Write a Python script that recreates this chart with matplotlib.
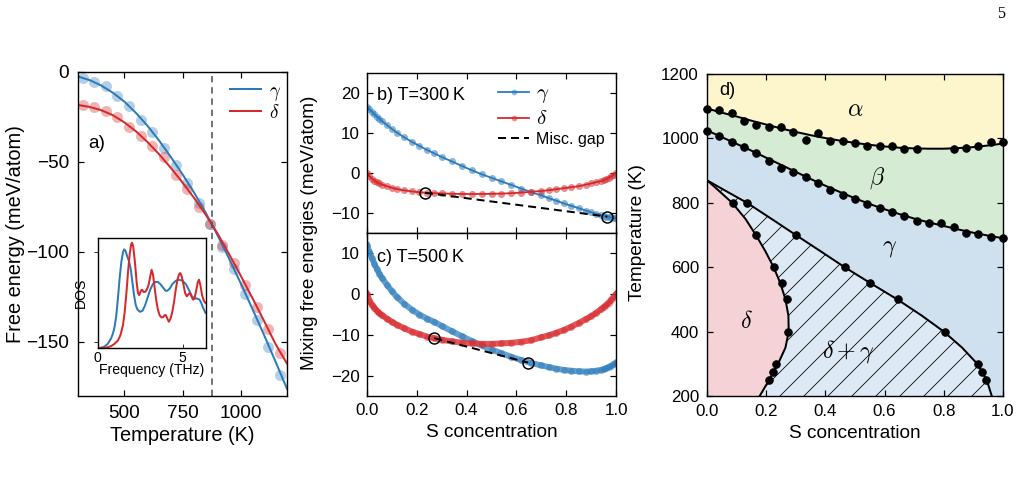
import matplotlib
matplotlib.use('Agg')
import matplotlib.pyplot as plt

plt.rcParams['font.family'] = ['Liberation Sans', 'DejaVu Sans']
plt.rcParams['mathtext.fontset'] = 'cm'
plt.rcParams['hatch.linewidth'] = 0.8
plt.rcParams['axes.linewidth'] = 1.4
plt.rcParams['axes.unicode_minus'] = True

BLUE = '#2b7bba'
RED = '#d7282c'

# ---------------- panel a: free energies vs temperature ----------------
T_pts = [320, 370, 420, 470, 520, 570, 620, 670, 720, 770, 820, 870,
         920, 970, 1020, 1070, 1120, 1170]
F_gamma_pts = [-3.3, -5.6, -8.0, -13.5, -19.0, -26.5, -33.5, -42.2, -51.5,
               -61.7, -72.5, -84.6, -97.0, -109.6, -123.5, -138.0, -153.0, -168.3]
F_delta_pts = [-18.5, -19.6, -21.5, -25.2, -30.7, -35.7, -41.3, -47.4, -57.4,
               -65.0, -75.0, -84.6, -96.1, -106.3, -118.3, -130.4, -143.0, -156.3]
T_fit = [300, 350, 400, 450, 500, 550, 600, 650, 700, 750, 800, 850, 900,
         950, 1000, 1050, 1100, 1150, 1200]
F_gamma_fit = [-2.5, -4.5, -7.5, -11.5, -16.5, -22.8, -30.0, -38.2, -47.3,
               -56.8, -67.0, -78.2, -90.5, -103.5, -117.2, -131.3, -145.8, -160.7, -176.0]
F_delta_fit = [-18.3, -19.4, -21.2, -24.0, -28.0, -33.0, -39.0, -45.8, -53.3,
               -61.4, -70.0, -79.3, -89.5, -101.0, -113.0, -125.3, -138.0, -151.0, -162.0]
T_transition = 875

# inset: phonon DOS
freq_gamma = [0, 0.2, 0.4, 0.6, 0.8, 0.9, 1.0, 1.1, 1.2, 1.3, 1.4, 1.5, 1.57, 1.65,
              1.75, 1.85, 1.95, 2.05, 2.15, 2.25, 2.35, 2.5, 2.65, 2.8, 2.95, 3.1,
              3.25, 3.4, 3.55, 3.7, 3.85, 4.0, 4.1, 4.25, 4.4, 4.6, 4.8, 5.0, 5.2,
              5.4, 5.55, 5.7, 5.85, 6.0, 6.1, 6.2, 6.35]
dos_gamma = [0, 0.005, 0.015, 0.04, 0.09, 0.13, 0.19, 0.29, 0.45, 0.63, 0.78, 0.87,
             0.895, 0.88, 0.83, 0.79, 0.72, 0.60, 0.48, 0.39, 0.35, 0.33, 0.34, 0.39,
             0.46, 0.53, 0.58, 0.60, 0.60, 0.58, 0.55, 0.52, 0.52, 0.54, 0.58, 0.61,
             0.62, 0.61, 0.58, 0.52, 0.47, 0.45, 0.45, 0.44, 0.41, 0.37, 0.32]
freq_delta = [0, 0.5, 0.8, 1.0, 1.2, 1.35, 1.5, 1.6, 1.7, 1.8, 1.9, 1.98, 2.03, 2.1,
              2.2, 2.3, 2.38, 2.45, 2.55, 2.62, 2.7, 2.8, 2.9, 3.0, 3.1, 3.18, 3.26,
              3.35, 3.45, 3.55, 3.65, 3.75, 3.85, 3.95, 4.02, 4.1, 4.2, 4.3, 4.4, 4.5,
              4.6, 4.7, 4.8, 4.87, 4.95, 5.05, 5.15, 5.25, 5.35, 5.43, 5.52, 5.62,
              5.7, 5.8, 5.9, 5.97, 6.05, 6.15, 6.25, 6.35]
dos_delta = [0, 0.005, 0.02, 0.04, 0.07, 0.12, 0.21, 0.33, 0.50, 0.70, 0.86, 0.94,
             0.955, 0.92, 0.78, 0.60, 0.50, 0.48, 0.52, 0.53, 0.51, 0.51, 0.53, 0.57,
             0.65, 0.71, 0.67, 0.56, 0.44, 0.35, 0.30, 0.28, 0.28, 0.30, 0.30, 0.27,
             0.24, 0.27, 0.33, 0.42, 0.53, 0.62, 0.67, 0.68, 0.65, 0.58, 0.50, 0.47,
             0.49, 0.50, 0.47, 0.44, 0.45, 0.52, 0.60, 0.62, 0.57, 0.48, 0.43, 0.41]

# ---------------- panels b, c: mixing free energies ----------------
x_conc = [0, .01, .02, .03, .04, .05, .06, .08, .1, .12, .15, .18, .21, .24, .27,
          .3, .34, .38, .42, .46, .5, .54, .58, .62, .66, .7, .73, .76, .79, .82,
          .85, .88, .9, .92, .94, .95, .96, .97, .98, .99, 1.0]
G300_gamma = [16.5, 15.9, 15.3, 14.7, 14.1, 13.6, 13.0, 12.0, 11.0, 10.1, 8.9, 7.8,
              6.8, 5.8, 4.9, 4.0, 2.9, 1.8, 0.7, -0.3, -1.2, -2.1, -3.0, -3.9, -4.8,
              -5.6, -6.3, -6.9, -7.6, -8.2, -8.8, -9.4, -9.8, -10.2, -10.5, -10.7,
              -10.9, -11.0, -11.1, -11.2, -11.3]
G300_delta = [0, -0.8, -1.4, -1.9, -2.3, -2.6, -2.9, -3.3, -3.7, -4.0, -4.35, -4.6,
              -4.8, -4.95, -5.05, -5.1, -5.2, -5.25, -5.25, -5.25, -5.2, -5.15, -5.05,
              -4.9, -4.7, -4.5, -4.3, -4.05, -3.8, -3.55, -3.3, -2.9, -2.6, -2.3,
              -2.0, -1.8, -1.5, -1.2, -0.85, -0.45, 0]
G500_gamma = [12.0, 10.3, 8.8, 7.4, 6.1, 5.0, 4.0, 2.3, 0.7, -0.7, -2.4, -3.8, -5.0,
              -6.0, -6.8, -7.8, -9.1, -10.3, -11.5, -12.6, -13.6, -14.5, -15.4, -16.2,
              -16.9, -17.5, -17.9, -18.3, -18.6, -18.8, -18.95, -19.0, -18.95, -18.8,
              -18.6, -18.4, -18.2, -17.9, -17.6, -17.2, -16.8]
G500_delta = [0, -1.6, -2.6, -3.4, -4.1, -4.7, -5.2, -6.0, -6.8, -7.5, -8.4, -9.2,
              -9.8, -10.4, -10.8, -11.2, -11.6, -11.9, -12.1, -12.2, -12.2, -12.1,
              -11.95, -11.7, -11.3, -10.6, -10.1, -9.5, -8.8, -8.0, -7.1, -6.1, -5.4,
              -4.6, -3.7, -3.2, -2.7, -2.1, -1.4, -0.7, 0]
gap300_x = [0.233, 0.965]
gap300_y = [-4.95, -10.9]
gap500_x = [0.27, 0.647]
gap500_y = [-10.8, -16.8]

# ---------------- panel d: phase diagram ----------------
S_ab_pts = [0.0, .042, .083, .125, .167, .208, .25, .292, .333, .375, .417, .458,
            .5, .542, .583, .625, .667, .708, .833, .875, .917, .958, 1.0]
T_ab_pts = [1091, 1088, 1078, 1055, 1041, 1036, 1036, 1021, 995, 1018, 993, 992,
            985, 976, 976, 976, 967, 966, 966, 969, 977, 990, 990]
S_bg_pts = [0.0, .042, .083, .125, .167, .208, .25, .292, .333, .375, .417, .458,
            .5, .542, .583, .625, .667, .708, .75, .792, .833, .875, .917, .958, 1.0]
T_bg_pts = [1024, 1008, 990, 972, 956, 931, 909, 895, 879, 860, 840, 824, 811, 796,
            783, 772, 760, 744, 738, 736, 726, 707, 703, 695, 690]
S_line = [0, .05, .1, .15, .2, .25, .3, .35, .4, .45, .5, .55, .6, .65, .7, .75,
          .8, .85, .9, .95, 1.0]
T_ab_line = [1093, 1080, 1068, 1055, 1043, 1031, 1020, 1010, 1001, 993, 986, 980,
             975, 971, 969, 968, 968, 970, 973, 978, 984]
T_bg_line = [1025, 1004, 983, 962, 940, 918, 896, 874, 853, 833, 814, 796, 780,
             765, 751, 739, 728, 717, 707, 698, 690]
T_two = [870, 850, 800, 750, 700, 650, 600, 550, 500, 450, 400, 350, 300, 250, 200]
S_delta_line = [0, .025, .085, .13, .165, .197, .225, .248, .265, .275, .276, .265,
                .24, .21, .178]
S_gamma_line = [0, .038, .135, .218, .30, .383, .465, .553, .643, .725, .80, .862,
                .913, .945, .962]
S_delta_pts = [.087, .166, .226, .252, .269, .275, .233, .222, .21]
T_delta_pts = [800, 700, 600, 550, 500, 400, 300, 275, 250]
S_gamma_pts = [.136, .30, .466, .551, .646, .804, .917, .93, .943]
T_gamma_pts = [800, 700, 600, 550, 500, 400, 300, 275, 250]

# ---------------------------------------------------------------
W, H = 1024, 490
fig = plt.figure(figsize=(W / 72, H / 72), dpi=72)


def ax_px(l, r, t, b):
    return fig.add_axes([l / W, (H - b) / H, (r - l) / W, (b - t) / H])


def style(ax, size=17, pad=7):
    ax.tick_params(direction='in', length=6, width=1.2, top=True, right=True,
                   labelsize=size, pad=pad)


# ---- panel a
axa = ax_px(78, 287, 72, 396)
axa.plot(T_pts, F_gamma_pts, 'o', color=BLUE, alpha=0.35, ms=11, mec='none')
axa.plot(T_pts, F_delta_pts, 'o', color=RED, alpha=0.35, ms=11, mec='none')
axa.plot(T_fit, F_gamma_fit, '-', color=BLUE, lw=2, label=r'$\gamma$')
axa.plot(T_fit, F_delta_fit, '-', color=RED, lw=2, label=r'$\delta$')
axa.axvline(T_transition, color='#555555', ls=(0, (4, 3)), lw=1.6)
axa.set_xlim(300, 1200)
axa.set_ylim(-180, 0)
axa.set_xticks([500, 750, 1000])
axa.set_yticks([0, -50, -100, -150])
style(axa, size=19, pad=9)
axa.set_xlabel('Temperature (K)', fontsize=20, labelpad=4)
axa.text(0.05, 0.765, 'a)', transform=axa.transAxes, fontsize=19)
axa.legend(loc='upper left', bbox_to_anchor=(0.645, 1.02), frameon=False,
           fontsize=19, handlelength=1.65, handletextpad=0.4, labelspacing=0.05)
fig.text(16 / W, (H - 234) / H, 'Free energy (meV/atom)', rotation=90,
         ha='center', va='center', fontsize=20)

# inset
axi = ax_px(97.5, 205.5, 237.7, 348.3)
axi.plot(freq_gamma, dos_gamma, color=BLUE, lw=2)
axi.plot(freq_delta, dos_delta, color=RED, lw=2)
axi.set_xlim(0, 6.35)
axi.set_ylim(0, 1.0)
axi.set_xticks([0, 5])
axi.set_yticks([0.06, 0.873])
axi.set_yticklabels([])
axi.tick_params(axis='x', direction='in', length=4, labelsize=14, pad=3)
axi.tick_params(axis='y', direction='out', length=4)
for s in axi.spines.values():
    s.set_linewidth(1.4)
axi.set_xlabel('Frequency (THz)', fontsize=14, labelpad=-2)
axi.set_ylabel('DOS', fontsize=14, labelpad=2)

# ---- panel b
axb = ax_px(367, 616, 73, 233)
axb.plot(x_conc, G300_gamma, '-o', color=BLUE, lw=1.8, ms=7,
         mfc=(0.17, 0.48, 0.73, 0.55), mec='none', label=r'$\gamma$')
axb.plot(x_conc, G300_delta, '-o', color=RED, lw=1.8, ms=7,
         mfc=(0.84, 0.16, 0.17, 0.55), mec='none', label=r'$\delta$')
axb.plot(gap300_x, gap300_y, 'k--', lw=2, dashes=(4, 2.5), label='Misc. gap')
axb.plot(gap300_x, gap300_y, 'o', mfc='none', mec='k', ms=11, mew=1.5)
axb.set_xlim(0, 1)
axb.set_ylim(-15, 25)
axb.set_xticks([0, .2, .4, .6, .8, 1.0])
axb.set_xticklabels([])
axb.set_yticks([-10, 0, 10, 20])
style(axb, pad=7)
axb.text(0.04, 0.83, 'b) T=300\u2009K', transform=axb.transAxes, fontsize=18)
leg = axb.legend(loc='upper left', bbox_to_anchor=(0.47, 1.03), frameon=False,
                 fontsize=16, handlelength=1.9, handletextpad=0.45, labelspacing=0.25,
                 markerscale=0.8)
for t in leg.get_texts()[:2]:
    t.set_fontsize(21)

# ---- panel c
axc = ax_px(367, 616, 233, 396)
axc.plot(x_conc, G500_gamma, '-', color='#4a8fc6', lw=6, alpha=0.85)
axc.plot(x_conc, G500_gamma, 'o', color=BLUE, ms=7, alpha=0.5, mec='none')
axc.plot(x_conc, G500_delta, '-', color='#dc3b3e', lw=6, alpha=0.85)
axc.plot(x_conc, G500_delta, 'o', color=RED, ms=7, alpha=0.5, mec='none')
axc.plot(gap500_x, gap500_y, 'k--', lw=2, dashes=(4, 2.5))
axc.plot(gap500_x, gap500_y, 'o', mfc='none', mec='k', ms=11, mew=1.5)
axc.set_xlim(0, 1)
axc.set_ylim(-25, 15)
axc.set_xticks([0, .2, .4, .6, .8, 1.0])
axc.set_xticklabels(['0.0', '0.2', '0.4', '0.6', '0.8', '1.0'])
axc.set_yticks([-20, -10, 0, 10])
style(axc, pad=7)
axc.set_xlabel('S concentration', fontsize=19, labelpad=6)
axc.text(0.04, 0.82, 'c) T=500\u2009K', transform=axc.transAxes, fontsize=18)
fig.text(310 / W, (H - 233) / H, 'Mixing free energies (meV/atom)', rotation=90,
         ha='center', va='center', fontsize=19)

# ---- panel d
axd = ax_px(707, 1003, 74, 396)
axd.fill_between(S_line, T_ab_line, 1200, color='#fdf5cc', lw=0)
axd.fill_between(S_line, T_bg_line, T_ab_line, color='#d5ebd4', lw=0)
axd.fill_between(S_line, 200, T_bg_line, color='#cfe1ef', lw=0)
axd.fill_betweenx(T_two, S_delta_line, S_gamma_line, facecolor='#dde9f4',
                  edgecolor='black', hatch='/', lw=0)
axd.fill_betweenx(T_two, 0, S_delta_line, color='#f4d2d5', lw=0)
axd.plot(S_line, T_ab_line, 'k-', lw=2)
axd.plot(S_line, T_bg_line, 'k-', lw=2)
axd.plot(S_delta_line, T_two, 'k-', lw=2)
axd.plot(S_gamma_line, T_two, 'k-', lw=2)
for sx, ty in [(S_ab_pts, T_ab_pts), (S_bg_pts, T_bg_pts),
               (S_delta_pts, T_delta_pts), (S_gamma_pts, T_gamma_pts)]:
    axd.plot(sx, ty, 'o', color='black', ms=7.5, clip_on=False)
axd.set_xlim(0, 1)
axd.set_ylim(200, 1200)
axd.set_xticks([0, .2, .4, .6, .8, 1.0])
axd.set_xticklabels(['0.0', '0.2', '0.4', '0.6', '0.8', '1.0'])
axd.set_yticks([200, 400, 600, 800, 1000, 1200])
style(axd, pad=8)
for s in axd.spines.values():
    s.set_zorder(5)
axd.set_xlabel('S concentration', fontsize=19, labelpad=6)
fig.text(637 / W, (H - 233) / H, 'Temperature (K)', rotation=90,
         ha='center', va='center', fontsize=19)
axd.text(0.04, 0.935, 'd)', transform=axd.transAxes, fontsize=18)
kw = dict(transform=axd.transAxes, fontsize=24, ha='center', va='center')
axd.text(0.50, 0.888, r'$\alpha$', **kw)
axd.text(0.573, 0.676, r'$\beta$', **kw)
axd.text(0.618, 0.459, r'$\gamma$', **kw)
axd.text(0.134, 0.231, r'$\delta$', **kw)
axd.text(0.477, 0.138, r'$\delta + \gamma$', **kw)

fig.text(1001 / W, (H - 14) / H, '5', fontsize=16, family='Liberation Serif',
         ha='center', va='center')

fig.savefig('out.png', dpi=72)
